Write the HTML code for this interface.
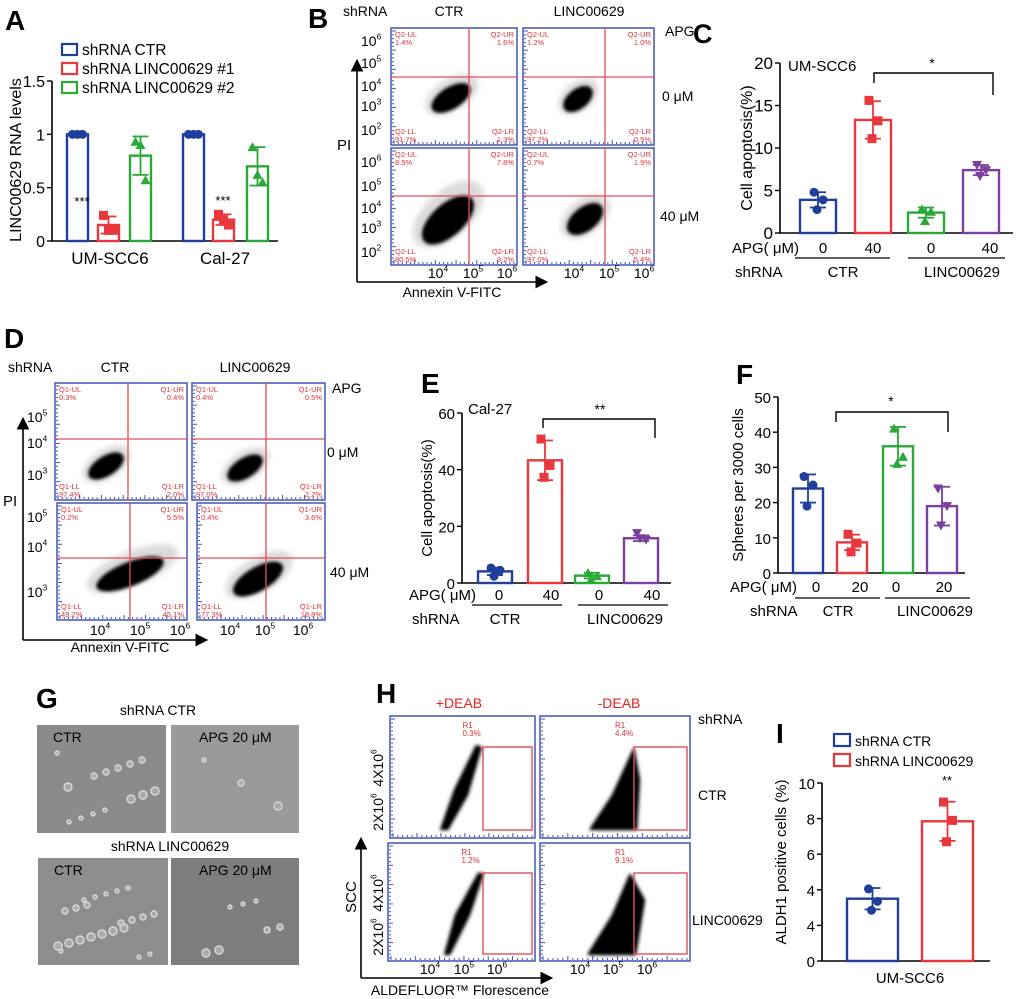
<!DOCTYPE html>
<html><head><meta charset="utf-8">
<style>
html,body{margin:0;padding:0;background:#fff;}
svg{display:block;font-family:"Liberation Sans",Arial,sans-serif;}
</style></head>
<body>
<svg id="fig" width="1020" height="999" viewBox="0 0 1020 999" xmlns="http://www.w3.org/2000/svg">
<defs>
<filter id="blur1" x="-50%" y="-50%" width="200%" height="200%"><feGaussianBlur stdDeviation="1.6"/></filter>
<filter id="blur3" x="-50%" y="-50%" width="200%" height="200%"><feGaussianBlur stdDeviation="3"/></filter>
<marker id="arrow" markerWidth="8" markerHeight="8" refX="6" refY="4" orient="auto"><path d="M0,0 L8,4 L0,8 z" fill="#000"/></marker>
</defs>
<g id="layer"></g>
</svg>
<script>
// ===== Panel A data =====
const aGroups = ["UM-SCC6", "Cal-27"];
const aSeries = ["shRNA CTR", "shRNA LINC00629 #1", "shRNA LINC00629 #2"];
const aMeans = [[1, 0.15, 0.8], [1, 0.2, 0.7]];
const aErr = [[0, 0.08, 0.18], [0, 0.05, 0.18]];
const aPoints = [[[1,1,1],[0.24,0.1,0.1],[0.93,0.9,0.57]],[[1,1,1],[0.25,0.2,0.15],[0.88,0.62,0.55]]];
const aTicks = [0, 0.5, 1, 1.5];
const aTickLabels = ["0", "0.5", "1", "1.5"];
// ===== Panel C data =====
const cCategories = ["CTR 0", "CTR 40", "LINC00629 0", "LINC00629 40"];
const cMeans = [3.9, 13.3, 2.4, 7.4];
const cErr = [0.9, 2.2, 0.6, 0.6];
const cPoints = [[4.8, 3.9, 2.75], [15.6, 13.2, 11.1], [2.8, 2.5, 1.4], [8.0, 7.4, 6.7]];
const cTicks = [0, 5, 10, 15, 20];
// ===== Panel E data =====
const eCategories = ["CTR 0", "CTR 40", "LINC00629 0", "LINC00629 40"];
const eMeans = [4.1, 43.3, 2.6, 15.8];
const eErr = [1.3, 7.0, 1.0, 1.0];
const ePoints = [[5.3, 4.5, 2.4], [50.8, 41.5, 37.3], [3.5, 2.4, 1.2], [17.6, 15.3, 15.8]];
const eTicks = [0, 20, 40, 60];
// ===== Panel F data =====
const fCategories = ["CTR 0", "CTR 20", "LINC00629 0", "LINC00629 20"];
const fMeans = [24, 8.7, 36, 19];
const fErr = [4, 2.2, 5.5, 5.5];
const fPoints = [[27.4, 25, 19], [11, 8.5, 6], [41, 33, 31], [24, 19, 13.5]];
const fTicks = [0, 10, 20, 30, 40, 50];
// ===== Panel I data =====
const iCategories = ["shRNA CTR", "shRNA LINC00629"];
const iMeans = [3.5, 7.85];
const iErr = [0.6, 1.1];
const iPoints = [[4.05, 3.35, 2.85], [8.93, 7.9, 6.7]];
const iTicks = [0, 2, 4, 6, 8, 10];
const iTickLabels = ["0", "4", "4", "6", "8", "10"];

const NS = "http://www.w3.org/2000/svg";
const root = document.getElementById("layer");
const COL = {blue:"#1f3f9a", red:"#e8383d", green:"#2aa838", purple:"#7b3f9e"};
function mk(tag, attrs, parent){
  const e = document.createElementNS(NS, tag);
  for (const k in attrs) e.setAttribute(k, attrs[k]);
  (parent || root).appendChild(e);
  return e;
}
function txt(s, x, y, opt, parent){
  opt = opt || {};
  const t = mk("text", {x:x, y:y, "font-size":opt.size||14, fill:opt.fill||"#000", "text-anchor":opt.anchor||"start"}, parent);
  if (opt.weight) t.setAttribute("font-weight", opt.weight);
  if (opt.rot) t.setAttribute("transform", "rotate(" + opt.rot + " " + x + " " + y + ")");
  t.textContent = s;
  
  
  return t;
}
function marker(shape, cx, cy, color, g){
  let m;
  if (shape === "circle") m = mk("circle", {cx:cx, cy:cy, r:4.5, fill:color}, g);
  else if (shape === "square") m = mk("rect", {x:cx-4.5, y:cy-4.5, width:9, height:9, fill:color}, g);
  else if (shape === "up") m = mk("polygon", {points:(cx-5)+","+(cy+4)+" "+(cx+5)+","+(cy+4)+" "+cx+","+(cy-5), fill:color}, g);
  else m = mk("polygon", {points:(cx-5)+","+(cy-4)+" "+(cx+5)+","+(cy-4)+" "+cx+","+(cy+5), fill:color}, g);
  
  
}
function barChart(cfg, means, errs, points, ticks, tickLabels){
  const g = mk("g", {});
  
  
  const yScale = v => cfg.y0 - (v - ticks[0]) / (ticks[ticks.length-1] - ticks[0]) * (cfg.y0 - cfg.yTop);
  const ax = mk("path", {d:"M"+cfg.ax+","+cfg.yTop+" L"+cfg.ax+","+cfg.y0+" L"+cfg.axEnd+","+cfg.y0, stroke:"#000", "stroke-width":1.6, fill:"none"}, g);
  
  
  ticks.forEach((t, i) => {
    const y = yScale(t);
    mk("line", {x1:cfg.ax-5, x2:cfg.ax, y1:y, y2:y, stroke:"#000", "stroke-width":1.4}, g);
    txt(tickLabels ? tickLabels[i] : String(t), cfg.ax-7, y+6, {size:cfg.tickSize||17, anchor:"end", name:"y-tick-label"}, g);
  });
  means.forEach((m, i) => {
    const x = cfg.bx[i], w = cfg.bw, col = cfg.colors[i];
    const r = mk("rect", {x:x, y:yScale(m), width:w, height:cfg.y0 - yScale(m), fill:"none", stroke:col, "stroke-width":2.4}, g);
    
    
    const cx = x + w/2, e = errs[i];
    if (e > 0) {
      mk("line", {x1:cx, x2:cx, y1:yScale(m+e), y2:yScale(m-e), stroke:col, "stroke-width":1.8}, g);
      mk("line", {x1:cx-8, x2:cx+8, y1:yScale(m+e), y2:yScale(m+e), stroke:col, "stroke-width":1.8}, g);
      mk("line", {x1:cx-8, x2:cx+8, y1:yScale(m-e), y2:yScale(m-e), stroke:col, "stroke-width":1.8}, g);
    }
    const offs = [-4, 5, -1];
    points[i].forEach((p, j) => marker(cfg.shapes[i], cx + (cfg.jitter===false?(j-1)*5:offs[j]), yScale(p), col, g));
  });
  return yScale;
}

// ===== Panel A =====
txt("A", 5, 30, {size:28, weight:"bold", name:"panel-label-a"});
{
  const bx = [67, 98, 130, 183, 213, 247];
  const means=[], errs=[], pts=[], cols=[], shapes=[];
  const c3=[COL.blue, COL.red, COL.green], s3=["circle","square","up"];
  aMeans.forEach((grp, gi) => grp.forEach((m, si) => {means.push(m); errs.push(aErr[gi][si]); pts.push(aPoints[gi][si]); cols.push(c3[si]); shapes.push(s3[si]);}));
  barChart({name:"chart-a", ax:52, y0:241, yTop:81, axEnd:278, bx:bx, bw:21, colors:cols, shapes:shapes, tickSize:16, jitter:false}, means, errs, pts, aTicks, aTickLabels);
  txt("***", 82, 206, {size:13, anchor:"middle", name:"significance-a1"});
  txt("***", 223, 205, {size:13, anchor:"middle", name:"significance-a2"});
  aGroups.forEach((gname, i) => txt(gname, i===0?110:225, 264, {size:17, anchor:"middle", name:"x-group-label"}));
  txt("LINC00629 RNA levels", 21, 160, {size:16, anchor:"middle", rot:-90, name:"y-axis-title-a"});
  aSeries.forEach((s, i) => {
    const y = 44 + i*19;
    const r = mk("rect", {x:62, y:y, width:15, height:11, fill:"none", stroke:c3[i], "stroke-width":2.2});
    
    
    txt(s, 82, y+11, {size:15.5, name:"legend-entry"});
  });
}

// ===== flow cytometry helpers =====
function flowBox(x, y, w, h, name){
  const g = mk("g", {});
  
  
  mk("rect", {x:x, y:y, width:w, height:h, fill:"#fff", stroke:"#4055b5", "stroke-width":1.5}, g);
  for (let i = 0; i < 30; i++) {
    mk("line", {x1:x+3+i*(w-6)/29, x2:x+3+i*(w-6)/29, y1:y+h-1, y2:y+h-(i%5===0?5:3), stroke:"#4055b5", "stroke-width":1}, g);
    mk("line", {x1:x+1, x2:x+(i%5===0?5:3), y1:y+3+i*(h-6)/29, y2:y+3+i*(h-6)/29, stroke:"#4055b5", "stroke-width":1}, g);
  }
  return g;
}
function blob(g, cx, cy, rx, ry, rot, spread){
  mk("ellipse", {cx:cx+spread*0.3, cy:cy-spread*0.3, rx:rx*1.35, ry:ry*1.45, fill:"#000", opacity:0.14, filter:"url(#blur3)", transform:"rotate("+rot+" "+cx+" "+cy+")"}, g);
  mk("ellipse", {cx:cx, cy:cy, rx:rx, ry:ry, fill:"#000", filter:"url(#blur1)", transform:"rotate("+rot+" "+cx+" "+cy+")"}, g);
}
function quad(g, x, y, w, h, vx, hy, labels, pre){
  mk("line", {x1:vx, x2:vx, y1:y, y2:y+h, stroke:"#e0505a", "stroke-width":1.3}, g);
  mk("line", {x1:x, x2:x+w, y1:hy, y2:hy, stroke:"#e0505a", "stroke-width":1.3}, g);
  const o = {size:7.5, fill:"#e0303a", name:"quadrant-label"};
  txt(pre+"-UL", x+4, y+9, o, g); txt(labels[0], x+4, y+17, o, g);
  txt(pre+"-UR", x+w-3, y+9, Object.assign({anchor:"end"}, o), g); txt(labels[1], x+w-3, y+17, Object.assign({anchor:"end"}, o), g);
  txt(pre+"-LL", x+4, y+h-11, o, g); txt(labels[2], x+4, y+h-3, o, g);
  txt(pre+"-LR", x+w-3, y+h-11, Object.assign({anchor:"end"}, o), g); txt(labels[3], x+w-3, y+h-3, Object.assign({anchor:"end"}, o), g);
}
function sup(base, exp, x, y, size, parent, anchor){
  const t = mk("text", {x:x, y:y, "font-size":size, "text-anchor":anchor||"start"}, parent);
  
  
  const a = mk("tspan", {}, t); a.textContent = base;
  const b = mk("tspan", {dy:-size*0.45, "font-size":size*0.6}, t); b.textContent = exp;
  return t;
}

// ===== Panel B =====
txt("B", 308, 28, {size:28, weight:"bold", name:"panel-label-b"});
txt("shRNA", 343, 16, {size:14, name:"row-header"});
txt("CTR", 449, 16, {size:14, anchor:"middle", name:"column-label"});
txt("LINC00629", 589, 16, {size:14, anchor:"middle", name:"column-label"});
txt("APG", 665, 36, {size:14, name:"apg-label"});
txt("0 μM", 662, 101, {size:14, name:"dose-label"});
txt("40 μM", 660, 221, {size:14, name:"dose-label"});
{
  const boxes = [
    [391,28,126,117,469,77,["1.4%","1.6%","91.7%","1.3%"], [451,98,22,11,-32,8]],
    [523,28,131,117,605,77,["1.2%","1.0%","97.2%","0.5%"], [578,99,17,10,-38,5]],
    [391,148,126,117,469,196,["8.5%","7.8%","80.5%","3.2%"], [448,220,32,16,-42,14]],
    [523,148,131,117,605,196,["0.7%","1.9%","97.0%","5.4%"], [585,219,21,12,-38,6]],
  ];
  boxes.forEach((b, i) => {
    const g = flowBox(b[0], b[1], b[2], b[3], "flow-plot-b" + i);
    blob(g, b[7][0], b[7][1], b[7][2], b[7][3], b[7][4], b[7][5]);
    quad(g, b[0], b[1], b[2], b[3], b[4], b[5], b[6], "Q2");
  });
  const ax = mk("path", {d:"M357,282 L357,62", stroke:"#000", "stroke-width":1.6, fill:"none", "marker-end":"url(#arrow)"});
   
  const ax2 = mk("path", {d:"M357,282 L545,282", stroke:"#000", "stroke-width":1.6, fill:"none", "marker-end":"url(#arrow)"});
   
  txt("PI", 337, 150, {size:15, name:"y-axis-title-b"});
  txt("Annexin V-FITC", 452, 297, {size:14, anchor:"middle", name:"x-axis-title-b"});
  [["6",46],["5",68],["4",91],["3",111],["2",135],["6",167],["5",191],["4",213],["3",233],["2",257]].forEach(p => sup("10", p[0], 361, p[1], 14, root));
  [438,473,507,574,609,644].forEach((x, i) => sup("10", String(4 + i%3), x, 278, 14, root, "middle"));
}

// ===== Panel C =====
txt("C", 693, 43, {size:27, weight:"bold", name:"panel-label-c"});
barChart({name:"chart-c", ax:780, y0:233, yTop:63, axEnd:1013, bx:[800,855,908,963], bw:36, colors:[COL.blue,COL.red,COL.green,COL.purple], shapes:["circle","square","up","down"], tickSize:17}, cMeans, cErr, cPoints, cTicks);
txt("UM-SCC6", 788, 71, {size:15, name:"cell-line-label"});
mk("path", {d:"M874,83 L874,73 L993,73 L993,95", stroke:"#000", "stroke-width":1.4, fill:"none"});
txt("*", 932, 68, {size:14, anchor:"middle", name:"significance-c"});
txt("Cell apoptosis(%)", 752, 148, {size:16, anchor:"middle", rot:-90, name:"y-axis-title-c"});
txt("APG( μM)", 732, 253, {size:15, name:"x-row-label"});
["0","40","0","40"].forEach((s, i) => txt(s, [823,873,931,990][i], 253, {size:15, anchor:"middle", name:"dose-label"}));
mk("line", {x1:795, x2:890, y1:258, y2:258, stroke:"#000", "stroke-width":1.2});
mk("line", {x1:908, x2:1005, y1:258, y2:258, stroke:"#000", "stroke-width":1.2});
txt("shRNA", 735, 277, {size:15, name:"x-row-label"});
txt("CTR", 843, 277, {size:15, anchor:"middle", name:"group-label"});
txt("LINC00629", 962, 277, {size:15, anchor:"middle", name:"group-label"});

// ===== Panel D =====
txt("D", 4, 348, {size:28, weight:"bold", name:"panel-label-d"});
txt("shRNA", 8, 372, {size:14, name:"row-header"});
txt("CTR", 115, 372, {size:14, anchor:"middle", name:"column-label"});
txt("LINC00629", 255, 372, {size:14, anchor:"middle", name:"column-label"});
txt("APG", 332, 393, {size:14, name:"apg-label"});
txt("0 μM", 327, 457, {size:14, name:"dose-label"});
txt("40 μM", 330, 577, {size:14, name:"dose-label"});
{
  const boxes = [
    [55,383,132,117,128,439,["0.3%","0.4%","97.4%","2.0%"], [106,466,20,10,-32,5]],
    [192,383,133,117,266,439,["0.4%","0.5%","97.0%","2.2%"], [245,468,20,10,-32,5]],
    [57,503,130,117,130,558,["0.2%","5.5%","49.2%","45.1%"], [130,574,36,12,-22,14]],
    [197,503,128,117,266,558,["0.4%","3.6%","77.3%","18.8%"], [258,579,28,12,-30,10]],
  ];
  boxes.forEach((b, i) => {
    const g = flowBox(b[0], b[1], b[2], b[3], "flow-plot-d" + i);
    blob(g, b[7][0], b[7][1], b[7][2], b[7][3], b[7][4], b[7][5]);
    quad(g, b[0], b[1], b[2], b[3], b[4], b[5], b[6], "Q1");
  });
  const ax = mk("path", {d:"M23,640 L23,420", stroke:"#000", "stroke-width":1.6, fill:"none", "marker-end":"url(#arrow)"});
   
  const ax2 = mk("path", {d:"M23,640 L205,640", stroke:"#000", "stroke-width":1.6, fill:"none", "marker-end":"url(#arrow)"});
   
  txt("PI", 3, 506, {size:15, name:"y-axis-title-d"});
  txt("Annexin V-FITC", 120, 652, {size:14, anchor:"middle", name:"x-axis-title-d"});
  [["5",422],["4",448],["3",480],["5",522],["4",552],["3",597]].forEach(p => sup("10", p[0], 27, p[1], 14, root));
  [100,140,180,230,265,303].forEach((x, i) => sup("10", String(4 + i%3), x, 635, 14, root, "middle"));
}

// ===== Panel E =====
txt("E", 421, 393, {size:28, weight:"bold", name:"panel-label-e"});
barChart({name:"chart-e", ax:462, y0:583, yTop:413, axEnd:671, bx:[478,528,575,624], bw:34, colors:[COL.blue,COL.red,COL.green,COL.purple], shapes:["circle","square","up","down"], tickSize:15}, eMeans, eErr, ePoints, eTicks);
txt("Cal-27", 468, 414, {size:15, name:"cell-line-label"});
mk("path", {d:"M543,428 L543,419 L655,419 L655,438", stroke:"#000", "stroke-width":1.4, fill:"none"});
txt("**", 600, 414, {size:14, anchor:"middle", name:"significance-e"});
txt("Cell apoptosis(%)", 432, 498, {size:15, anchor:"middle", rot:-90, name:"y-axis-title-e"});
txt("APG( μM)", 409, 600, {size:15, name:"x-row-label"});
["0","40","0","40"].forEach((s, i) => txt(s, [499,551,599,652][i], 600, {size:15, anchor:"middle", name:"dose-label"}));
mk("line", {x1:472, x2:562, y1:605, y2:605, stroke:"#000", "stroke-width":1.2});
mk("line", {x1:578, x2:668, y1:605, y2:605, stroke:"#000", "stroke-width":1.2});
txt("shRNA", 412, 624, {size:15, name:"x-row-label"});
txt("CTR", 505, 624, {size:15, anchor:"middle", name:"group-label"});
txt("LINC00629", 625, 624, {size:15, anchor:"middle", name:"group-label"});

// ===== Panel F =====
txt("F", 736, 384, {size:28, weight:"bold", name:"panel-label-f"});
barChart({name:"chart-f", ax:778, y0:573, yTop:397, axEnd:965, bx:[793,837,883,927], bw:30, colors:[COL.blue,COL.red,COL.green,COL.purple], shapes:["circle","square","up","down"], tickSize:15}, fMeans, fErr, fPoints, fTicks);
mk("path", {d:"M836,422 L836,412 L948,412 L948,432", stroke:"#000", "stroke-width":1.4, fill:"none"});
txt("*", 891, 406, {size:14, anchor:"middle", name:"significance-f"});
txt("Spheres per 3000 cells", 743, 485, {size:15, anchor:"middle", rot:-90, name:"y-axis-title-f"});
txt("APG( μM)", 730, 592, {size:15, name:"x-row-label"});
["0","20","0","20"].forEach((s, i) => txt(s, [816,860,896,944][i], 592, {size:15, anchor:"middle", name:"dose-label"}));
mk("line", {x1:795, x2:880, y1:598, y2:598, stroke:"#000", "stroke-width":1.2});
mk("line", {x1:885, x2:970, y1:598, y2:598, stroke:"#000", "stroke-width":1.2});
txt("shRNA", 750, 616, {size:15, name:"x-row-label"});
txt("CTR", 838, 616, {size:15, anchor:"middle", name:"group-label"});
txt("LINC00629", 935, 616, {size:15, anchor:"middle", name:"group-label"});

// ===== Panel G (microscopy images) =====
txt("G", 36, 708, {size:28, weight:"bold", name:"panel-label-g"});
txt("shRNA  CTR", 158, 715, {size:14, anchor:"middle", name:"image-row-title"});
txt("shRNA  LINC00629", 170, 851, {size:14, anchor:"middle", name:"image-row-title"});
{
  const imgs = [[37,725,129,108,"#8b8b8b","CTR",14],[171,725,128,108,"#9a9a9a","APG 20 μM",3],[38,858,130,107,"#8d8d8d","CTR",22],[171,858,128,107,"#7e7e7e","APG 20 μM",7]];
  imgs.forEach((im, k) => {
    const g = mk("g", {});
    
    
    mk("rect", {x:im[0], y:im[1], width:im[2], height:im[3], fill:im[4]}, g);
    for (let j = 0; j < im[6]; j++) {
      const cx = im[0] + 20 + ((j*37 + k*13) % (im[2]-30));
      const cy = im[1] + 28 + ((j*23 + k*7) % (im[3]-35));
      mk("circle", {cx:cx, cy:cy, r:2 + (j%3), fill:"#aaa", stroke:"#d8d8d8", "stroke-width":1.4}, g);
    }
    txt(im[5], im[5]==="CTR" ? im[0]+16 : im[0]+28, im[1]+17, {size:14, name:"image-label"}, g);
  });
}

// ===== Panel H =====
txt("H", 376, 703, {size:28, weight:"bold", name:"panel-label-h"});
txt("+DEAB", 459, 708, {size:14, fill:"#e82020", anchor:"middle", name:"column-label"});
txt("-DEAB", 619, 708, {size:14, fill:"#e82020", anchor:"middle", name:"column-label"});
txt("shRNA", 698, 724, {size:14, name:"row-header"});
txt("CTR", 698, 800, {size:14, name:"row-label"});
txt("LINC00629", 692, 925, {size:14, name:"row-label"});
{
  const boxes = [
    [390,716,145,122,483,747,"0.3%",[[448,830],[468,795],[482,747],[476,745],[454,790],[440,830]]],
    [540,716,150,122,634,747,"4.4%",[[589,830],[612,795],[634,747],[640,780],[637,830]]],
    [388,843,147,118,483,873,"1.2%",[[450,955],[470,915],[484,873],[478,873],[455,915],[444,955]]],
    [540,843,150,118,634,873,"9.1%",[[587,955],[612,915],[630,873],[645,900],[636,955]]],
  ];
  boxes.forEach((b, i) => {
    const g = flowBox(b[0], b[1], b[2], b[3], "flow-plot-h" + i);
    const pts = b[7].map(p => p.join(",")).join(" ");
    mk("polygon", {points:pts, fill:"#000", opacity:0.25, filter:"url(#blur3)"}, g);
    mk("polygon", {points:pts, fill:"#000", filter:"url(#blur1)"}, g);
    const gate = mk("rect", {x:b[4], y:b[5], width:b[0]+b[2]-b[4]-3, height:(i<2?83:81), fill:"none", stroke:"#e0505a", "stroke-width":1.4}, g);
     
    txt("R1", b[0]+b[2]*0.5, b[1]+12, {size:8, fill:"#e0303a", name:"gate-label"}, g);
    txt(b[6], b[0]+b[2]*0.5, b[1]+20, {size:8, fill:"#e0303a", name:"gate-value"}, g);
  });
  const ax = mk("path", {d:"M361,978 L361,840", stroke:"#000", "stroke-width":1.6, fill:"none", "marker-end":"url(#arrow)"});
   
  const ax2 = mk("path", {d:"M361,978 L550,978", stroke:"#000", "stroke-width":1.6, fill:"none", "marker-end":"url(#arrow)"});
   
  txt("SCC", 356, 897, {size:15, anchor:"middle", rot:-90, name:"y-axis-title-h"});
  txt("ALDEFLUOR™ Florescence", 460, 995, {size:14, anchor:"middle", name:"x-axis-title-h"});
  [[768,"4X10"],[812,"2X10"],[893,"4X10"],[937,"2X10"]].forEach(p => {
    const t = sup(p[1], "6", 383, p[0], 14, root, "middle");
    t.setAttribute("transform", "rotate(-90 383 " + p[0] + ")");
  });
  [430,464,497,580,613,647].forEach((x, i) => sup("10", String(4 + i%3), x, 974, 14, root, "middle"));
}

// ===== Panel I =====
txt("I", 776, 743, {size:28, weight:"bold", name:"panel-label-i"});
barChart({name:"chart-i", ax:822, y0:961, yTop:783, axEnd:990, bx:[847,922], bw:51, colors:[COL.blue,COL.red], shapes:["circle","square"], tickSize:15}, iMeans, iErr, iPoints, iTicks, iTickLabels);
txt("**", 947, 785, {size:13, anchor:"middle", name:"significance-i"});
txt("ALDH1 positive cells (%)", 786, 862, {size:15, anchor:"middle", rot:-90, name:"y-axis-title-i"});
txt("UM-SCC6", 910, 983, {size:15, anchor:"middle", name:"x-group-label"});
iCategories.forEach((s, i) => {
  const y = 734 + i*20;
  const r = mk("rect", {x:834, y:y, width:16, height:12, fill:"none", stroke:i?COL.red:COL.blue, "stroke-width":2.2});
  
  
  txt(s, 855, y+12, {size:14, name:"legend-entry"});
});
</script>
</body></html>
